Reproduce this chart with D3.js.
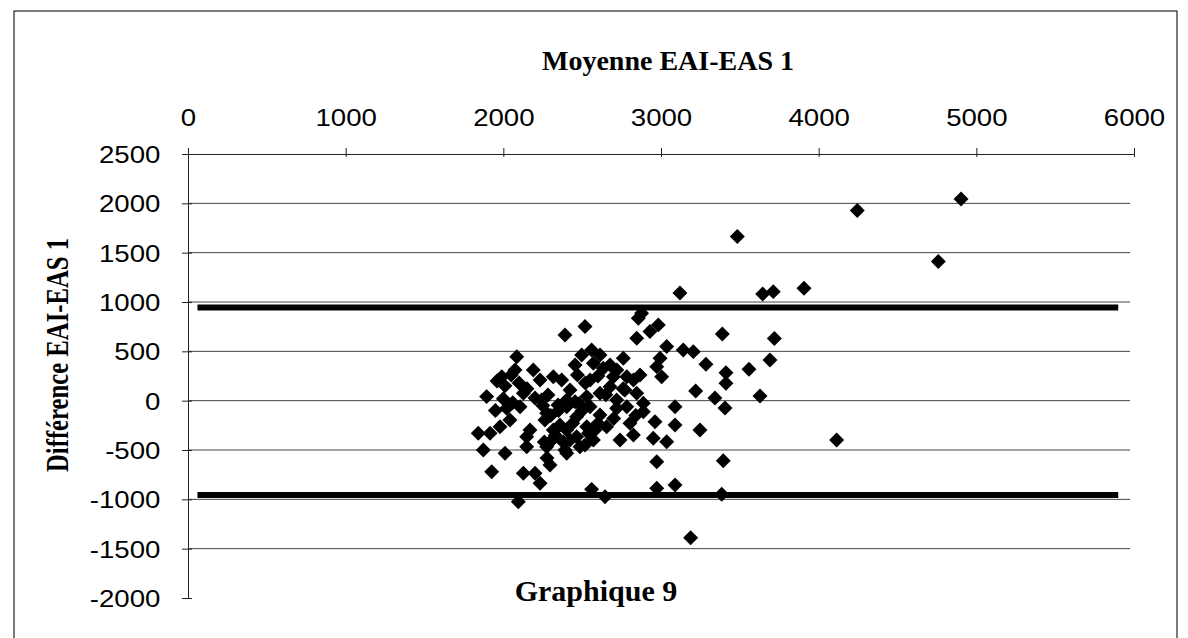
<!DOCTYPE html>
<html><head><meta charset="utf-8">
<script src="https://cdn.jsdelivr.net/npm/d3@7"></script>
<style>body{margin:0;background:#fff}</style>
</head><body>
<svg id="c" width="1188" height="638"></svg>
<script>
const meanVals = [4903,4245,4759,3484,3907,3645,3712,3120,3389,3719,3141,3205,3285,3412,3558,3691,3412,3220,3342,3406,3628,3089,3089,3247,3395,3089,3385,3188,4114,
2877,2856,2983,2930,2846,2518,2391,3036,2994,2973,3004,2761,2497,2560,2962,2951,3036,2973,2973,2560,2645,2402,2740,2825,2719,2613,
1873,2011,2148,2296,1926,2127,2201,2233,2095,2085,1894,1990,2074,2190,2233,2317,2370,2127,2021,2106,2243,2275,1841,1916,1979,2042,2148,2317,2275,
2571,2634,2698,2783,2825,2846,2677,2423,2402,2529,2613,2719,2888,2402,2465,2402,2465,2529,2571,2486,2655,2803,2888,2783,
2283,2347,2264,2359,2309,2391,2277,2201,2169,2455,2550,2581,2518,2423,2455,2677,2771,2550,2867,2613,
1960,2010,2050,2100,2150,2000,2060,1950,2250,2300,2330,2260,2350,2380,2440,2500,2540,2600,2480,2470,2520,2600,2650,2720,2760,2840,2700];
const diffVals = [2043,1927,1410,1663,1140,1082,1105,1092,676,629,514,497,369,284,318,413,176,98,27,-75,48,-61,-246,-297,-609,-855,-949,-1389,-399,
886,836,768,700,633,751,666,548,430,345,243,430,463,514,-213,-381,-416,-619,-888,-899,-974,-533,-399,-348,-77,-145,
-500,-533,-467,-652,-720,-736,-736,-838,-1024,446,41,243,311,311,210,243,210,75,-77,-61,7,-128,-331,-331,-264,-196,-365,-297,-467,
379,329,243,243,210,75,142,109,7,41,75,7,-26,-61,-162,-297,-365,-264,-399,-467,-264,-230,-112,-61,
58,-44,-196,-247,-399,-500,-581,27,-297,-11,-62,-297,-450,-399,362,362,109,210,261,463,
200,150,260,180,120,20,-20,-100,-50,-150,-350,-420,-100,-420,-230,-100,-330,-230,-30,260,180,250,60,310,120,-150,-180];
const xTicks = [0,1000,2000,3000,4000,5000,6000];
const yTicks = [-2000,-1500,-1000,-500,0,500,1000,1500,2000,2500];
const gridVals = [-1500,-1000,-500,0,500,1000,1500,2000];
const limitVals = [945,-955];
const limitRange = [60,5900];
const xTitle = "Moyenne EAI-EAS 1";
const yTitle = "Différence EAI-EAS 1";
const caption = "Graphique 9";

const svg = d3.select("#c");
svg.append("rect").attr("width",1188).attr("height",638).attr("fill","#fff");
svg.append("rect").attr("x",14).attr("y",11).attr("width",1163).attr("height",660)
  .attr("fill","none").attr("stroke","#222").attr("stroke-width",1.2);

const x = d3.scaleLinear().domain([0,6000]).range([188,1134]);
const y = d3.scaleLinear().domain([-2000,2500]).range([598,154]);

// gridlines
svg.append("g").selectAll("line").data(gridVals).join("line")
  .attr("x1",x(0)).attr("x2",1130).attr("y1",d=>y(d)).attr("y2",d=>y(d))
  .attr("stroke","#444").attr("stroke-width",1);

// limit lines
svg.append("g").selectAll("line").data(limitVals).join("line")
  .attr("x1",x(limitRange[0])).attr("x2",x(limitRange[1]))
  .attr("y1",d=>y(d)).attr("y2",d=>y(d))
  .attr("stroke","#000").attr("stroke-width",6);

// top axis
const gx = svg.append("g").attr("transform",`translate(0,${y(2500)})`)
  .call(d3.axisTop(x).tickValues(xTicks).tickSize(6).tickPadding(22).tickFormat(d=>String(d)));
gx.select(".domain").attr("stroke","#222");
gx.selectAll(".tick line").attr("stroke","#222").attr("y2",-6).attr("y1",3);
gx.selectAll(".tick text").attr("font-family","'Liberation Sans', Arial, sans-serif")
  .attr("font-size",24).attr("fill","#000").attr("transform","scale(1.15,1)");

// left axis
const gy = svg.append("g").attr("transform",`translate(${x(0)},0)`)
  .call(d3.axisLeft(y).tickValues(yTicks).tickSize(6).tickPadding(18).tickFormat(d=>String(d)));
gy.select(".domain").attr("stroke","#222");
gy.selectAll(".tick line").attr("stroke","#222").attr("x2",-6).attr("x1",4);
gy.selectAll(".tick text").attr("font-family","'Liberation Sans', Arial, sans-serif")
  .attr("font-size",24).attr("fill","#000").attr("dy","0.35em").attr("transform","scale(1.15,1)");

// points
const sym = d3.symbol().type(d3.symbolSquare).size(112);
svg.append("g").selectAll("path").data(meanVals.map((m,i)=>[m,diffVals[i]])).join("path")
  .attr("d",sym).attr("fill","#000")
  .attr("transform",d=>`translate(${x(d[0])},${y(d[1])}) rotate(45)`);

// titles
const serif = "'Liberation Serif','Times New Roman',serif";
svg.append("text").attr("x",668).attr("y",70).attr("text-anchor","middle")
  .attr("font-family",serif).attr("font-weight","bold").attr("font-size",28).text(xTitle);
svg.append("text").attr("x",596).attr("y",601).attr("text-anchor","middle")
  .attr("font-family",serif).attr("font-weight","bold").attr("font-size",30).text(caption);
svg.append("text").attr("transform","translate(68,355) rotate(-90) scale(0.95,1.2)").attr("text-anchor","middle")
  .attr("font-family",serif).attr("font-weight","bold").attr("font-size",26).text(yTitle);
</script>
</body></html>
